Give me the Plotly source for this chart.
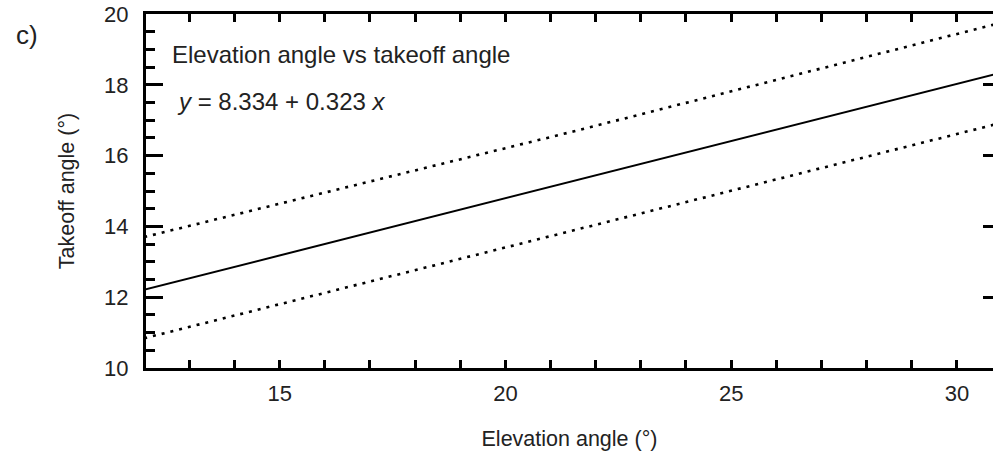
import plotly.graph_objects as go

# Data
x_pts = [12.0, 21.5, 31.0]
fit_line = [12.21, 15.28, 18.35]
upper_band = [13.70, 16.68, 19.76]
lower_band = [10.84, 13.88, 16.93]

x_ticks = [15, 20, 25, 30]
y_ticks = [10, 12, 14, 16, 18, 20]

W, H = 993, 469
L, R, T, B = 146, 0, 14, 101
PW, PH = W - L - R, H - T - B

fig = go.Figure()
fig.add_trace(go.Scatter(x=x_pts, y=upper_band, mode="lines",
                         line=dict(color="black", width=2.6, dash="3px,6px"), showlegend=False))
fig.add_trace(go.Scatter(x=x_pts, y=lower_band, mode="lines",
                         line=dict(color="black", width=2.6, dash="3px,6px"), showlegend=False))
fig.add_trace(go.Scatter(x=x_pts, y=fit_line, mode="lines",
                         line=dict(color="black", width=2), showlegend=False))
# right-side tick carrier
fig.add_trace(go.Scatter(x=[x_pts[0]], y=[fit_line[0]], yaxis="y2", mode="markers",
                         marker=dict(opacity=0), showlegend=False, hoverinfo="skip"))

font_family = "Liberation Sans, Arial, sans-serif"
fig.update_layout(
    width=W, height=H, autosize=False,
    margin=dict(l=L, r=R, t=T, b=B, pad=0),
    paper_bgcolor="white", plot_bgcolor="white",
    font=dict(family=font_family, color="#222", size=22),
    xaxis=dict(range=[12.04, 30.8], tickvals=x_ticks, showgrid=False, zeroline=False,
               automargin=False,
               showline=True, linecolor="black", linewidth=3, mirror="allticks",
               ticks="inside", ticklen=8, tickwidth=3, tickcolor="black",
               ticklabelstandoff=4, tickfont=dict(size=22),
               minor=dict(dtick=1, tick0=0, ticks="inside", ticklen=4, tickwidth=3, tickcolor="black", showgrid=False),
               title=dict(text="Elevation angle (°)", font=dict(size=21.5), standoff=26)),
    yaxis=dict(range=[10, 20], tickvals=y_ticks, showgrid=False, zeroline=False,
               automargin=False,
               showline=True, linecolor="black", linewidth=3,
               ticks="inside", ticklen=17, tickwidth=3, tickcolor="black",
               ticklabelstandoff=10, tickfont=dict(size=22),
               minor=dict(dtick=0.5, tick0=0, ticks="inside", ticklen=9, tickwidth=3, tickcolor="black", showgrid=False),
               title=dict(text="Takeoff angle (°)", font=dict(size=21.5), standoff=24)),
    yaxis2=dict(range=[10, 20], tickvals=y_ticks, overlaying="y", side="right",
                automargin=False,
                showgrid=False, zeroline=False, showline=False, showticklabels=False,
                ticks="inside", ticklen=10, tickwidth=3, tickcolor="black"),
    annotations=[
        dict(text="c)", xref="paper", yref="paper", x=(14 - L) / PW, y=1 - (35 - T) / PH,
             xanchor="left", yanchor="middle", showarrow=False, font=dict(size=26, color="#222")),
        dict(text="Elevation angle vs takeoff angle", xref="paper", yref="paper",
             x=(170 - L) / PW, y=(T + PH - 55) / PH, xanchor="left", yanchor="middle",
             showarrow=False, font=dict(size=24, color="#222")),
        dict(text="<i>y</i> = 8.334 + 0.323 <i>x</i>", xref="paper", yref="paper",
             x=(175 - L) / PW, y=(T + PH - 101) / PH, xanchor="left", yanchor="middle",
             showarrow=False, font=dict(size=24, color="#222")),
    ],
)
fig.write_html("out.html", config={"displayModeBar": False},
               post_script="document.body.style.margin='0';")
